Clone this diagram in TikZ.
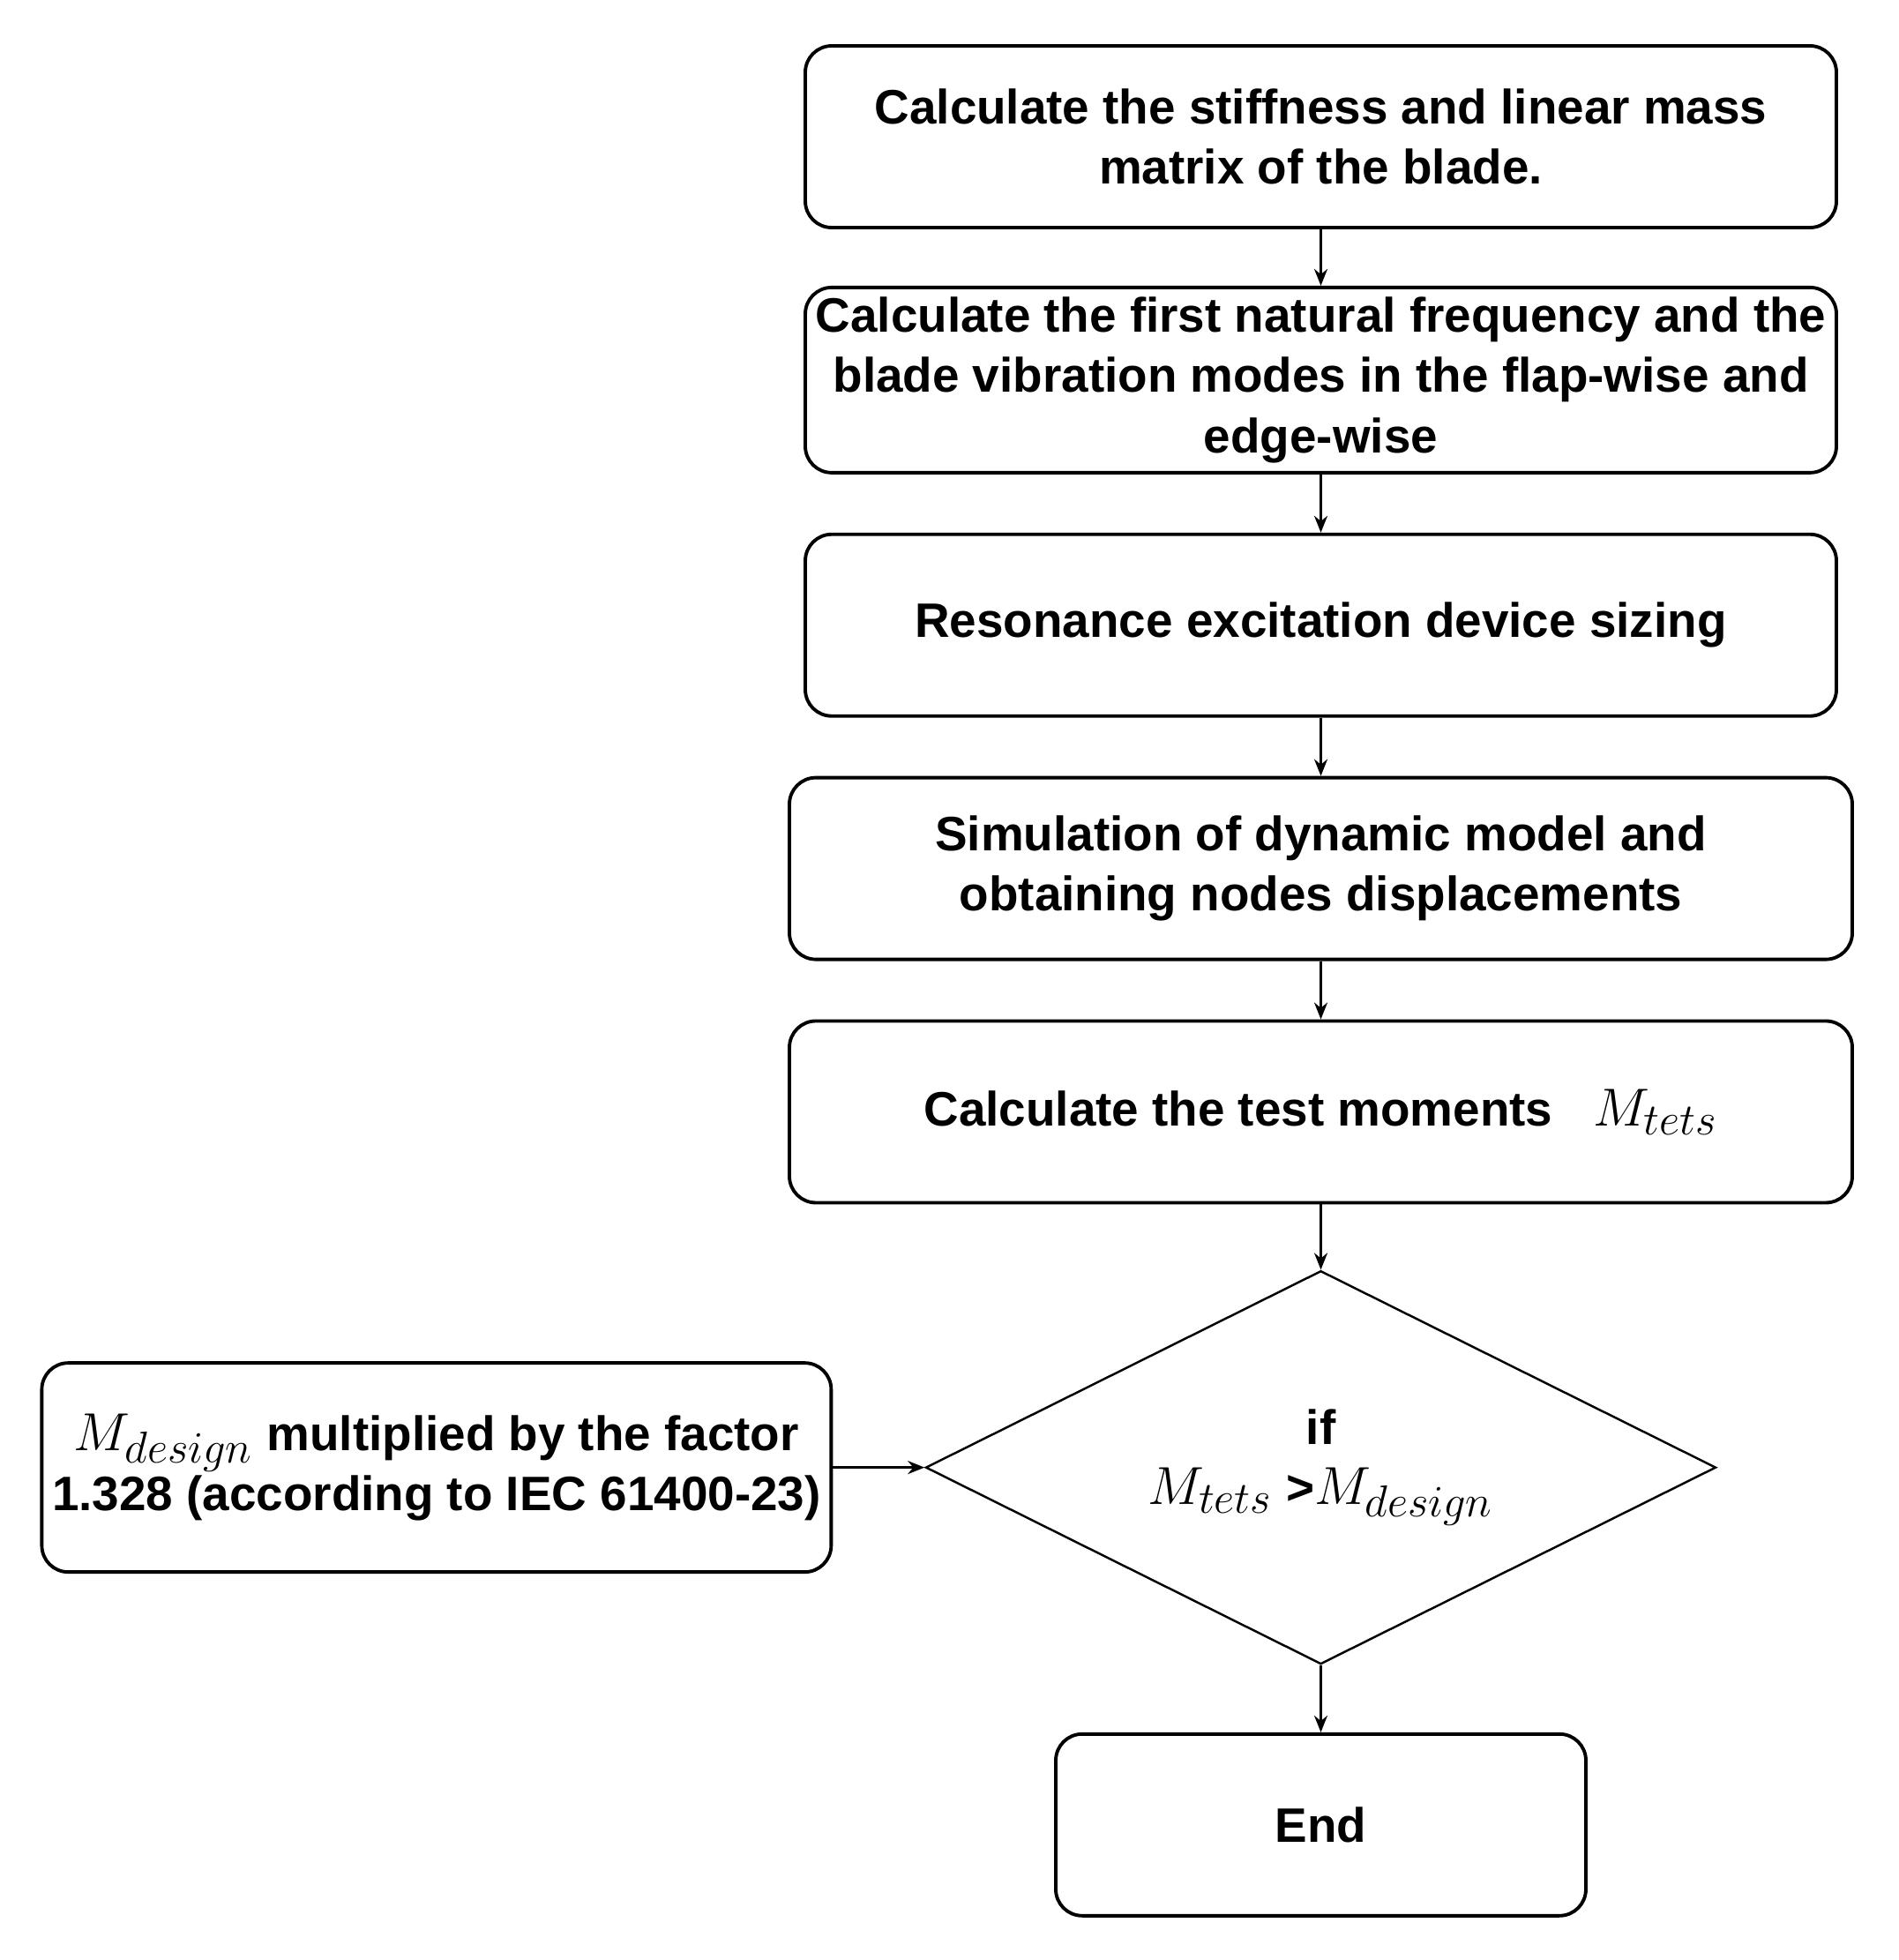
\documentclass[tikz,border=0pt]{standalone}
\usepackage{fontspec}
\setmainfont{Liberation Sans}
\usepackage{amsmath}
\usetikzlibrary{arrows.meta,positioning,shapes.geometric}
\newcommand{\grossM}[1]{{\fontsize{19}{19}\selectfont$#1$}}

\begin{document}
\begin{tikzpicture}[
  kasten/.style={draw,rounded corners=0.3cm,line width=1.1pt,minimum width=11.69cm,minimum height=2.06cm,align=center,font=\fontsize{15.6}{19.5}\selectfont\bfseries},
  breit/.style={kasten,minimum width=12.05cm},
  raute/.style={draw,diamond,aspect=2,line width=0.7pt,minimum width=8.96cm,minimum height=4.46cm,align=center,inner sep=0pt,font=\fontsize{15.6}{19.5}\selectfont\bfseries},
  pfeil/.style={-{Stealth[length=0.19cm,width=0.15cm]},line width=0.8pt}
]
%Rahmen wie im Original
\useasboundingbox (0,0) rectangle (21.53,-22.22);
\node[kasten] (steif) at (14.975,-1.55) {Calculate the stiffness and linear mass\\matrix of the blade.};
\node[kasten,inner ysep=0.05cm,minimum height=2.1cm,below=0.64cm of steif] (eigen) {Calculate the first natural frequency and the\\blade vibration modes in the flap-wise and\\edge-wise};
\node[kasten,below=0.66cm of eigen] (geraet) {Resonance excitation device sizing};
\node[breit,below=0.66cm of geraet] (sim) {Simulation of dynamic model and\\obtaining nodes displacements};
\node[breit,below=0.66cm of sim] (moment) {Calculate the test moments ~ \grossM{M_{tets}}};
\node[raute,below=0.74cm of moment] (wenn) {if\\\grossM{M_{tets}} >\grossM{M_{design}}};
\node[kasten,minimum width=8.93cm,minimum height=2.37cm,left=1.04cm of wenn] (faktor) {\grossM{M_{design}} multiplied by the factor\\1.328 (according to IEC 61400-23)};
\node[kasten,minimum width=6.01cm,below=0.76cm of wenn] (ende) {End};
%Pfeile
\draw[pfeil] (steif) -- (eigen);
\draw[pfeil] (eigen) -- (geraet);
\draw[pfeil] (geraet) -- (sim);
\draw[pfeil] (sim) -- (moment);
\draw[pfeil] (moment) -- (wenn);
\draw[pfeil] (faktor) -- (wenn);
\draw[pfeil] (wenn) -- (ende);
\end{tikzpicture}
\end{document}
